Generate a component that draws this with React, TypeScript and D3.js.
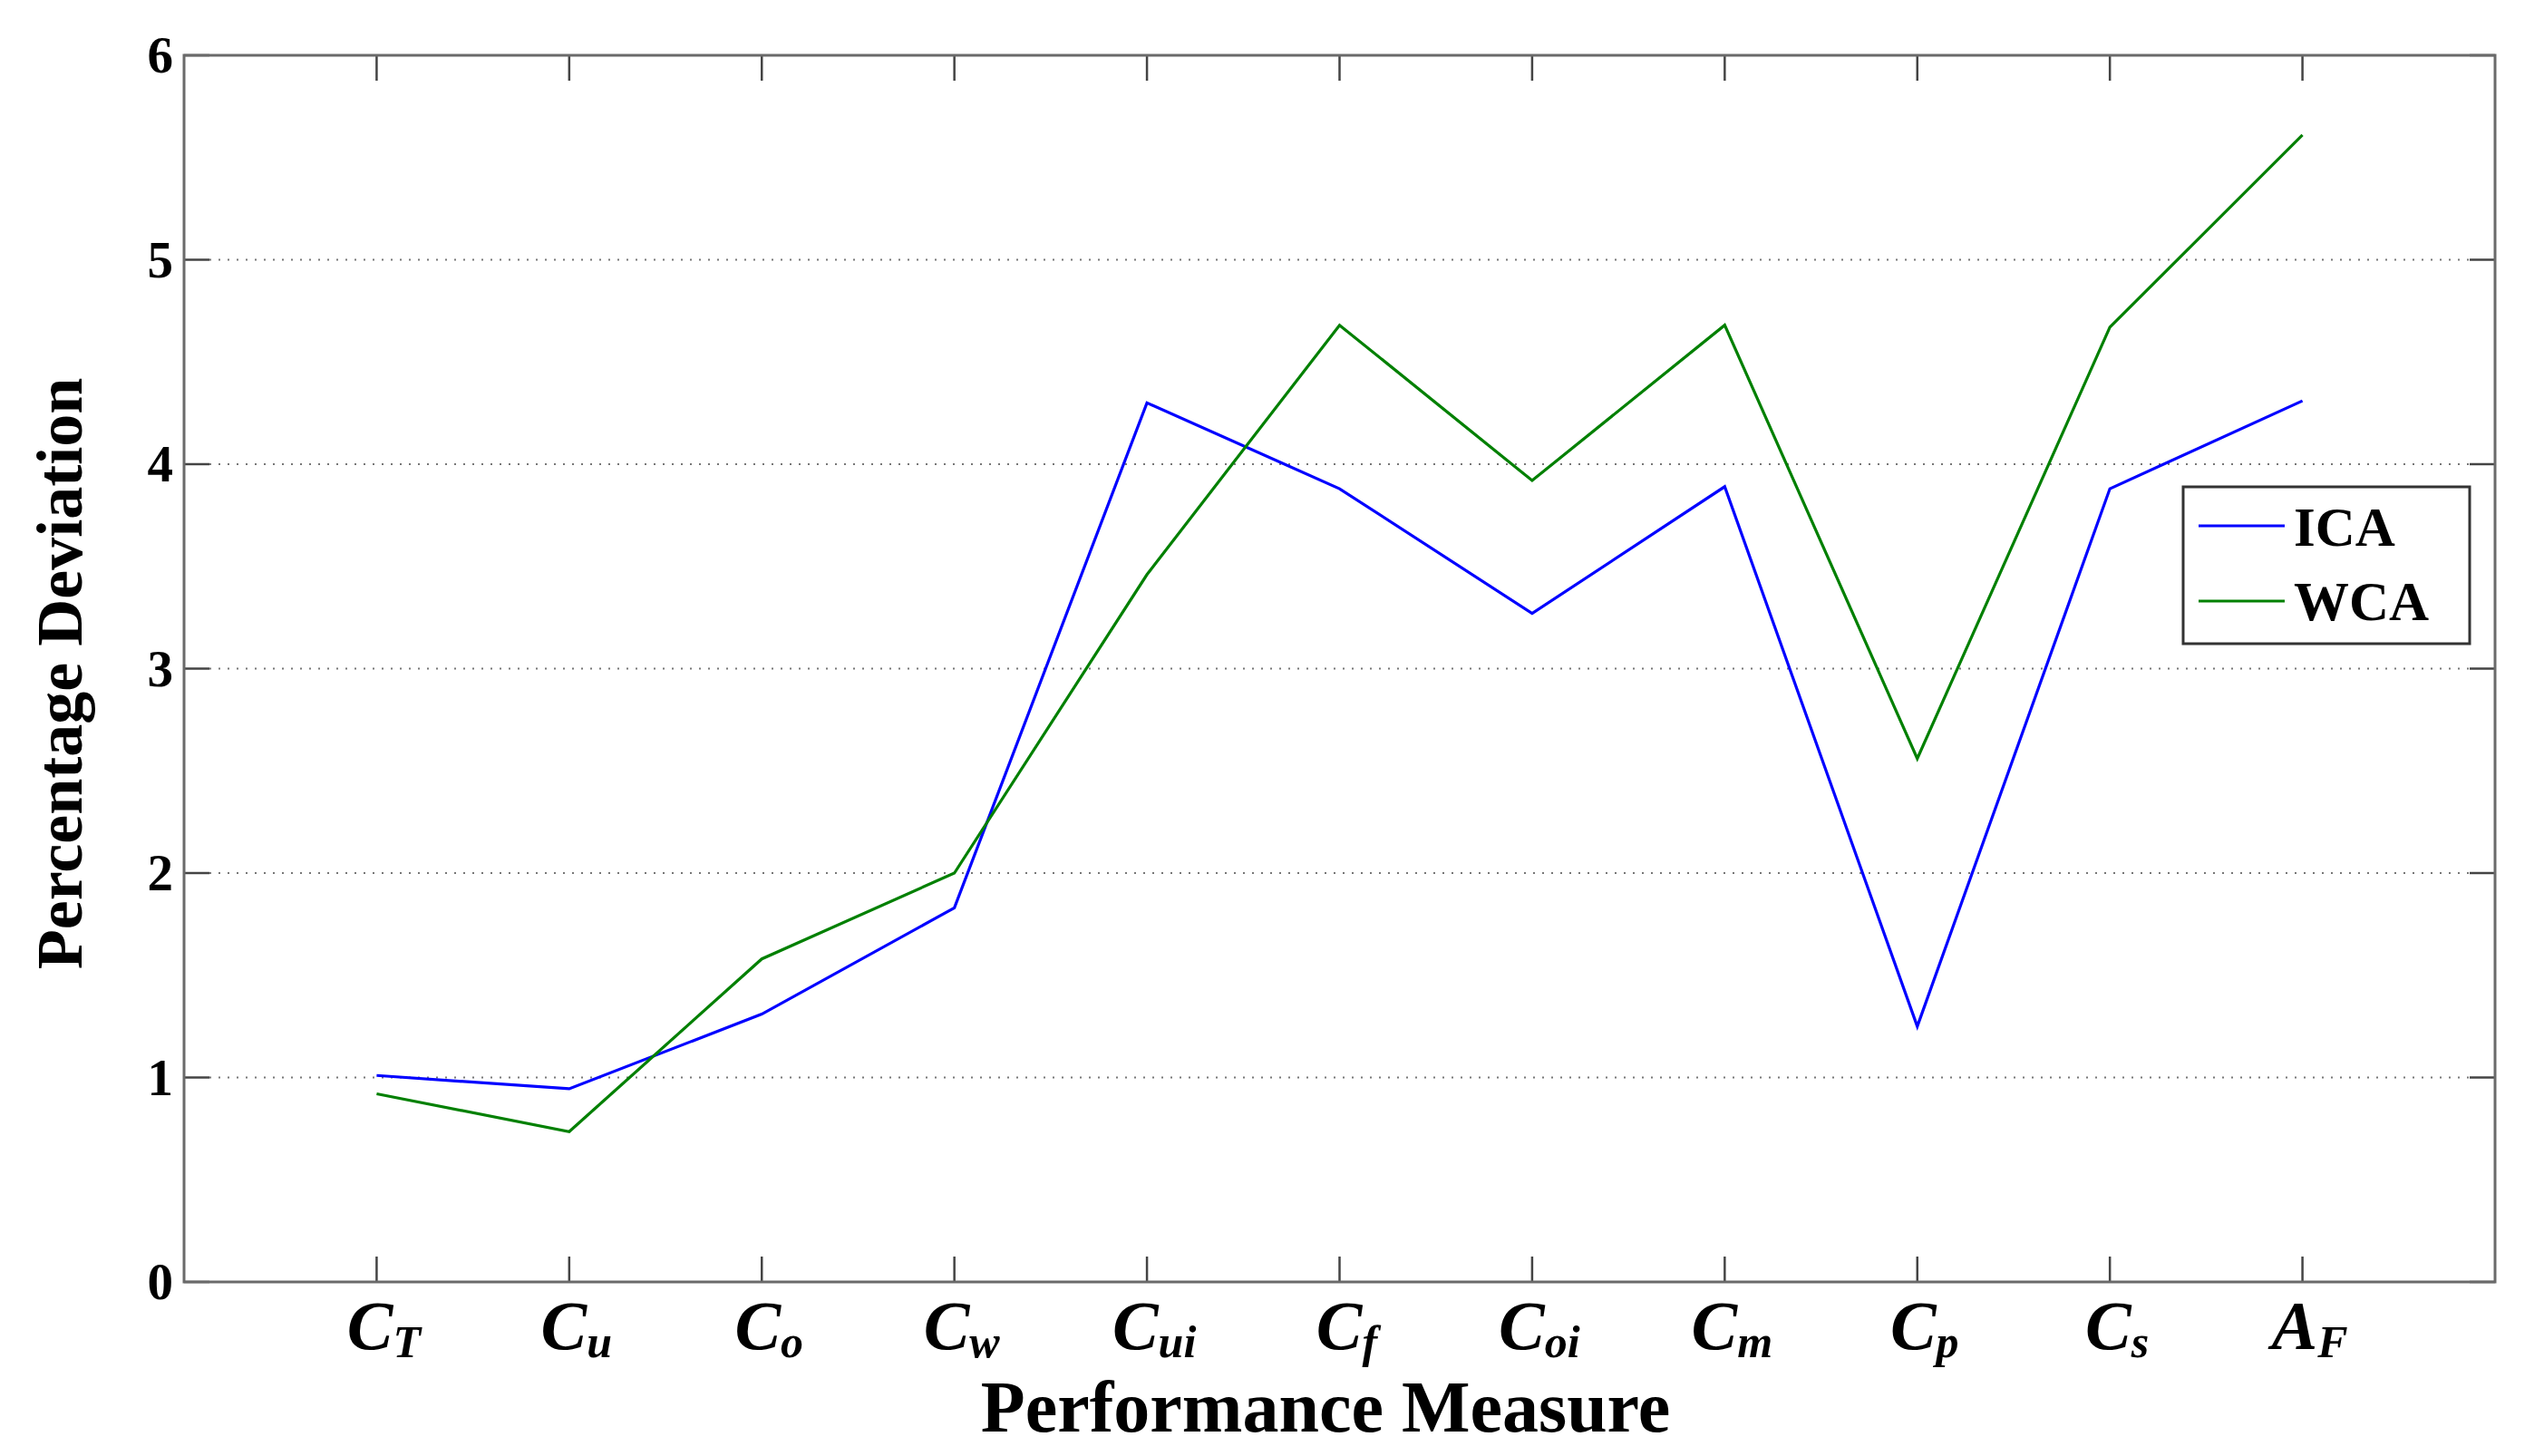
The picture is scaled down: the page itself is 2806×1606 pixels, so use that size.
import React from "react";
import * as d3 from "d3";

const labelMain = ["C", "C", "C", "C", "C", "C", "C", "C", "C", "C", "A"];
const labelSub = ["T", "u", "o", "w", "ui", "f", "oi", "m", "p", "s", "F"];
const icaValues = [1.01, 0.945, 1.31, 1.83, 4.3, 3.88, 3.27, 3.89, 1.25, 3.88, 4.31];
const wcaValues = [0.92, 0.735, 1.58, 2.0, 3.46, 4.68, 3.92, 4.68, 2.56, 4.67, 5.61];
const yTicks = [0, 1, 2, 3, 4, 5, 6];
const seriesNames = ["ICA", "WCA"];
const seriesColors = ["#0000ff", "#008000"];
const xTitle = "Performance Measure";
const yTitle = "Percentage Deviation";

const W = 2806;
const H = 1606;
const FONT = "'Liberation Serif', 'Times New Roman', serif";

export default function App() {
  const left = 203, right = 2752, top = 61, bottom = 1414;
  const x = d3.scaleLinear().domain([0, 12]).range([left, right]);
  const y = d3.scaleLinear().domain([0, 6]).range([bottom, top]);
  const xIdx = labelMain.map((_, i) => i + 1);
  const line = d3
    .line<number>()
    .x((_, i) => x(i + 1))
    .y((d) => y(d));
  const series = [icaValues, wcaValues];
  const tickLen = 28;
  const axisColor = "#6a6a6a";
  const tickColor = "#444";

  return (
    <svg
      width={W}
      height={H}
      style={{ position: "absolute", left: 0, top: 0, background: "#fff" }}
      fontFamily={FONT}
    >
      <rect x={0} y={0} width={W} height={H} fill="#fff" />
      {yTicks
        .filter((t) => t > 0 && t < 6)
        .map((t) => (
          <line
            key={"g" + t}
            x1={left + tickLen}
            x2={right - tickLen}
            y1={y(t)}
            y2={y(t)}
            stroke="#777"
            strokeWidth={2}
            strokeDasharray="2 8"
          />
        ))}
      {yTicks.map((t) => (
        <g key={"yt" + t}>
          <line x1={left} x2={left + tickLen} y1={y(t)} y2={y(t)} stroke={tickColor} strokeWidth={2.5} />
          <line x1={right} x2={right - tickLen} y1={y(t)} y2={y(t)} stroke={tickColor} strokeWidth={2.5} />
          <text
            x={left - 12}
            y={y(t) + 19}
            textAnchor="end"
            fontSize={57}
            fontWeight="bold"
            fill="#000"
          >
            {t}
          </text>
        </g>
      ))}
      {xIdx.map((v, i) => (
        <g key={"xt" + i}>
          <line x1={x(v)} x2={x(v)} y1={bottom} y2={bottom - tickLen} stroke={tickColor} strokeWidth={2.5} />
          <line x1={x(v)} x2={x(v)} y1={top} y2={top + tickLen} stroke={tickColor} strokeWidth={2.5} />
          <text
            x={x(v) + 8}
            y={1488}
            textAnchor="middle"
            fontSize={76}
            fontWeight="bold"
            fontStyle="italic"
            fill="#000"
          >
            {labelMain[i]}
            <tspan fontSize={50} dy={9}>
              {labelSub[i]}
            </tspan>
          </text>
        </g>
      ))}
      <rect
        x={left}
        y={top}
        width={right - left}
        height={bottom - top}
        fill="none"
        stroke={axisColor}
        strokeWidth={3}
      />
      {series.map((s, k) => (
        <path key={"s" + k} d={line(s) || ""} fill="none" stroke={seriesColors[k]} strokeWidth={3.2} />
      ))}
      <rect x={2408} y={537} width={316} height={173} fill="#fff" stroke="#333" strokeWidth={3} />
      {seriesNames.map((n, k) => (
        <g key={"l" + k}>
          <line
            x1={2425}
            x2={2520}
            y1={580 + k * 83}
            y2={580 + k * 83}
            stroke={seriesColors[k]}
            strokeWidth={3.2}
          />
          <text x={2530} y={602 + k * 82} fontSize={61} fontWeight="bold" fill="#000">
            {n}
          </text>
        </g>
      ))}
      <text x={1462} y={1579} textAnchor="middle" fontSize={80} fontWeight="bold" fill="#000">
        {xTitle}
      </text>
      <text
        transform={`translate(90, 743) rotate(-90)`}
        textAnchor="middle"
        fontSize={72}
        fontWeight="bold"
        fill="#000"
      >
        {yTitle}
      </text>
    </svg>
  );
}
